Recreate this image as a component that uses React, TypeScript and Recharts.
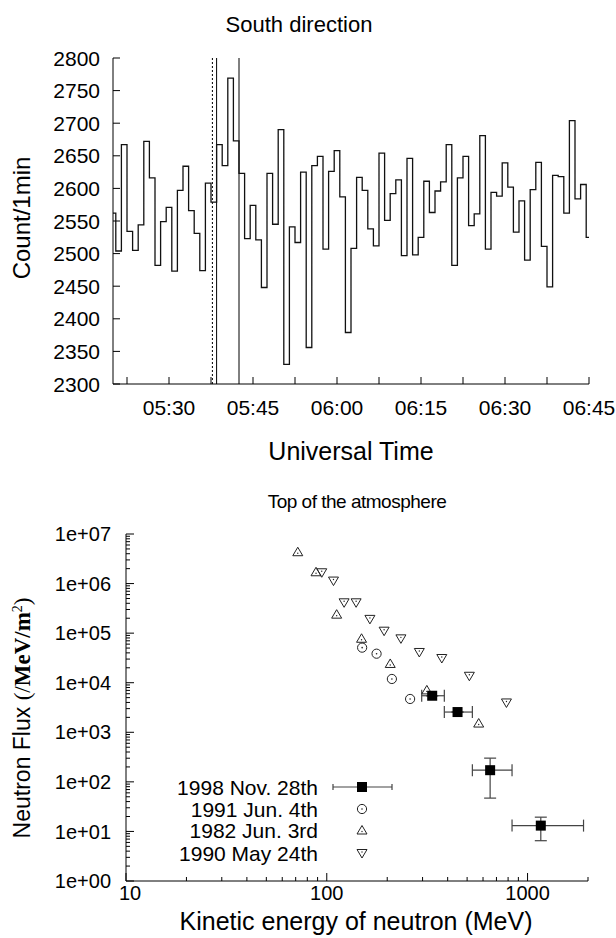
import { ComposedChart, Line, Scatter, XAxis, YAxis, ReferenceLine, ErrorBar } from 'recharts'

const FONT = '"Liberation Sans", Arial, Helvetica, sans-serif'
const SERIF = '"Liberation Serif", "Times New Roman", serif'
const INK = '#000'

// ---- South direction: 1-min counts (minutes after 05:00, bins start at :30)
const firstBinStart = 19.5
const counts = [
  2562, 2504, 2667, 2534, 2505, 2544, 2672, 2616, 2482, 2549, 2571, 2473, 2597, 2634, 2566, 2531,
  2474, 2608, 2579, 2667, 2635, 2769, 2673, 2623, 2523, 2574, 2521, 2448, 2623, 2545, 2690, 2330,
  2541, 2517, 2625, 2356, 2635, 2649, 2507, 2626, 2658, 2587, 2379, 2508, 2617, 2597, 2538, 2512,
  2654, 2551, 2592, 2613, 2497, 2646, 2498, 2525, 2611, 2563, 2596, 2610, 2667, 2482, 2616, 2649,
  2543, 2561, 2681, 2507, 2594, 2588, 2639, 2602, 2533, 2581, 2490, 2598, 2640, 2511, 2449, 2620,
  2618, 2562, 2704, 2584, 2606, 2525,
]
const dottedMarks = [37.75]
const solidMarks = [38.5, 42.5]
const timeTicks = [22.5, 30, 37.5, 45, 52.5, 60, 67.5, 75, 82.5, 90, 97.5, 105]
const countTicks = [2300, 2350, 2400, 2450, 2500, 2550, 2600, 2650, 2700, 2750, 2800]

// ---- Top of the atmosphere
const nov1998Energy = [335, 448, 651, 1164]
const nov1998Flux = [5460, 2560, 172, 13.1]
const nov1998ELow = [297, 385, 531, 837]
const nov1998EHigh = [385, 531, 837, 1900]
const nov1998FLow = [5460, 2560, 47, 6.5]
const nov1998FHigh = [5460, 2560, 301, 19.4]

const jun1991Energy = [150, 177, 211, 260]
const jun1991Flux = [5.1e4, 3.85e4, 1.19e4, 4.7e3]

const jun1982Energy = [71.7, 88.4, 112, 149, 207, 315, 571]
const jun1982Flux = [4.29e6, 1.69e6, 2.36e5, 7.7e4, 2.39e4, 7.0e3, 1.5e3]

const may1990Energy = [94.4, 108, 122, 140, 164, 193, 234, 289, 374, 513, 785]
const may1990Flux = [1.69e6, 1.15e6, 4.19e5, 4.19e5, 1.94e5, 1.12e5, 7.85e4, 4.17e4, 3.15e4, 1.38e4, 4.0e3]

const energyTicks = [
  10, 20, 30, 40, 50, 60, 70, 80, 90, 100, 200, 300, 400, 500, 600, 700, 800, 900, 1000, 2000,
]
const fluxDecades = [1, 10, 100, 1e3, 1e4, 1e5, 1e6, 1e7]
const fluxTicks = fluxDecades.flatMap((d) =>
  d === 1e7 ? [d] : [1, 2, 3, 4, 5, 6, 7, 8, 9].map((m) => m * d),
)

const countData = [
  ...counts.map((c, i) => ({ t: firstBinStart + i, count: c })),
  { t: firstBinStart + counts.length, count: counts[counts.length - 1] },
]

const nov1998 = nov1998Energy.map((e, i) => ({
  e,
  f: nov1998Flux[i],
  ex: [e - nov1998ELow[i], nov1998EHigh[i] - e],
  ey: [nov1998Flux[i] - nov1998FLow[i], nov1998FHigh[i] - nov1998Flux[i]],
}))
const jun1991 = jun1991Energy.map((e, i) => ({ e, f: jun1991Flux[i] }))
const jun1982 = jun1982Energy.map((e, i) => ({ e, f: jun1982Flux[i] }))
const may1990 = may1990Energy.map((e, i) => ({ e, f: may1990Flux[i] }))

type TickProps = { x?: number; y?: number; payload?: { value: number } }

const isDecade = (v: number) => {
  const l = Math.log10(v)
  return Math.abs(l - Math.round(l)) < 1e-6
}

const fmtTime = (v: number) => {
  const h = 5 + Math.floor(v / 60)
  const m = v % 60
  return `${String(h).padStart(2, '0')}:${String(m).padStart(2, '0')}`
}

function TimeTick({ x = 0, y = 0, payload }: TickProps) {
  const v = payload?.value ?? 0
  return (
    <g>
      <line x1={x} y1={y} x2={x} y2={y - 7} stroke={INK} />
      {v % 15 === 0 && (
        <text x={x} y={y + 31} textAnchor="middle" fontSize={21} fontFamily={FONT} fill={INK}>
          {fmtTime(v)}
        </text>
      )}
    </g>
  )
}

const TimeTopTick = ({ x = 0, y = 0 }: TickProps) => (
  <line x1={x} y1={y} x2={x} y2={y + 7} stroke={INK} />
)

function CountTick({ x = 0, y = 0, payload }: TickProps) {
  return (
    <g>
      <line x1={x} y1={y} x2={x + 7} y2={y} stroke={INK} />
      <text x={x - 13} y={y} dy="0.36em" textAnchor="end" fontSize={21} fontFamily={FONT} fill={INK}>
        {payload?.value}
      </text>
    </g>
  )
}

const CountRightTick = ({ x = 0, y = 0 }: TickProps) => (
  <line x1={x} y1={y} x2={x - 7} y2={y} stroke={INK} />
)

function EnergyTick({ x = 0, y = 0, payload }: TickProps) {
  const v = payload?.value ?? 1
  const major = isDecade(v)
  return (
    <g>
      <line x1={x} y1={y} x2={x} y2={y - (major ? 8 : 4)} stroke={INK} />
      {major && (
        <text x={v === 10 ? x + 4 : x} y={y + 19} textAnchor="middle" fontSize={20} fontFamily={FONT} fill={INK}>
          {v}
        </text>
      )}
    </g>
  )
}

const EnergyTopTick = ({ x = 0, y = 0, payload }: TickProps) => (
  <line x1={x} y1={y} x2={x} y2={y + (isDecade(payload?.value ?? 1) ? 8 : 4)} stroke={INK} />
)

function FluxTick({ x = 0, y = 0, payload }: TickProps) {
  const v = payload?.value ?? 1
  const major = isDecade(v)
  const k = Math.round(Math.log10(v))
  return (
    <g>
      <line x1={x} y1={y} x2={x + (major ? 8 : 4)} y2={y} stroke={INK} />
      {major && (
        <text x={x - 15} y={y} dy="0.36em" textAnchor="end" fontSize={20} fontFamily={FONT} fill={INK}>
          {`1e+${String(k).padStart(2, '0')}`}
        </text>
      )}
    </g>
  )
}

const FluxRightTick = ({ x = 0, y = 0, payload }: TickProps) => (
  <line x1={x} y1={y} x2={x - (isDecade(payload?.value ?? 1) ? 8 : 4)} y2={y} stroke={INK} />
)

// point symbols, gnuplot style
type ShapeProps = { cx?: number; cy?: number }
const Square = ({ cx = 0, cy = 0 }: ShapeProps) => (
  <rect x={cx - 5} y={cy - 5} width={10} height={10} fill={INK} />
)
const DotCircle = ({ cx = 0, cy = 0 }: ShapeProps) => (
  <g>
    <circle cx={cx} cy={cy} r={4.6} fill="none" stroke="#222" strokeWidth={1} />
    <circle cx={cx} cy={cy} r={0.8} fill="#222" />
  </g>
)
const UpTri = ({ cx = 0, cy = 0 }: ShapeProps) => (
  <g>
    <polygon
      points={`${cx},${cy - 5} ${cx - 5},${cy + 3.5} ${cx + 5},${cy + 3.5}`}
      fill="none"
      stroke="#222"
      strokeWidth={1}
    />
    <circle cx={cx} cy={cy + 1} r={0.7} fill="#222" />
  </g>
)
const DownTri = ({ cx = 0, cy = 0 }: ShapeProps) => (
  <g>
    <polygon
      points={`${cx - 5},${cy - 3.5} ${cx + 5},${cy - 3.5} ${cx},${cy + 5}`}
      fill="none"
      stroke="#222"
      strokeWidth={1}
    />
    <circle cx={cx} cy={cy - 1} r={0.7} fill="#222" />
  </g>
)

const legendRows = [
  { label: '1998 Nov. 28th', shape: Square, cy: 787 },
  { label: '1991 Jun. 4th', shape: DotCircle, cy: 809 },
  { label: '1982 Jun. 3rd', shape: UpTri, cy: 830.5 },
  { label: '1990 May 24th', shape: DownTri, cy: 853 },
]

const abs = (left: number, top: number): React.CSSProperties => ({
  position: 'absolute',
  left,
  top,
  transform: 'translate(-50%, -50%)',
  whiteSpace: 'nowrap',
  lineHeight: 1,
})

export default function App() {
  return (
    <div
      style={{
        position: 'absolute',
        left: 0,
        top: 0,
        width: 616,
        height: 938,
        background: '#fff',
        fontFamily: FONT,
        color: INK,
      }}
    >
      <div style={{ position: 'absolute', left: 0, top: 0 }}>
        <ComposedChart width={616} height={440} data={countData} margin={{ top: 58, right: 27, bottom: 0, left: 0 }}>
          <XAxis
            xAxisId="b"
            dataKey="t"
            type="number"
            domain={[20, 105]}
            allowDataOverflow
            ticks={timeTicks}
            interval={0}
            height={56}
            tickSize={0}
            tickMargin={0}
            tickLine={false}
            axisLine={{ stroke: INK }}
            tick={TimeTick}
          />
          <XAxis
            xAxisId="t"
            orientation="top"
            dataKey="t"
            type="number"
            domain={[20, 105]}
            allowDataOverflow
            ticks={timeTicks}
            interval={0}
            height={0}
            tickSize={0}
            tickMargin={0}
            tickLine={false}
            axisLine={{ stroke: INK }}
            tick={TimeTopTick}
          />
          <YAxis
            yAxisId="l"
            type="number"
            domain={[2300, 2800]}
            allowDataOverflow
            ticks={countTicks}
            interval={0}
            width={113}
            tickSize={0}
            tickMargin={0}
            tickLine={false}
            axisLine={{ stroke: INK }}
            tick={CountTick}
          />
          <YAxis
            yAxisId="r"
            orientation="right"
            type="number"
            domain={[2300, 2800]}
            allowDataOverflow
            ticks={countTicks}
            interval={0}
            width={0}
            tickSize={0}
            tickMargin={0}
            tickLine={false}
            axisLine={{ stroke: INK }}
            tick={CountRightTick}
          />
          {dottedMarks.map((x) => (
            <ReferenceLine key={`d${x}`} xAxisId="b" yAxisId="l" x={x} stroke={INK} strokeDasharray="2 2" />
          ))}
          {solidMarks.map((x) => (
            <ReferenceLine key={`s${x}`} xAxisId="b" yAxisId="l" x={x} stroke={INK} />
          ))}
          <Line
            xAxisId="b"
            yAxisId="l"
            type="stepAfter"
            dataKey="count"
            stroke="#111"
            strokeWidth={1.3}
            dot={false}
            activeDot={false}
            isAnimationActive={false}
          />
        </ComposedChart>
      </div>

      <div style={{ position: 'absolute', left: 0, top: 450 }}>
        <ComposedChart width={616} height={488} margin={{ top: 84, right: 28, bottom: 0, left: 0 }}>
          <XAxis
            xAxisId="b"
            dataKey="e"
            type="number"
            scale="log"
            domain={[10, 2000]}
            allowDataOverflow
            ticks={energyTicks}
            interval={0}
            height={57}
            tickSize={0}
            tickMargin={0}
            tickLine={false}
            axisLine={{ stroke: INK }}
            tick={EnergyTick}
          />
          <XAxis
            xAxisId="t"
            orientation="top"
            dataKey="e"
            type="number"
            scale="log"
            domain={[10, 2000]}
            allowDataOverflow
            ticks={energyTicks}
            interval={0}
            height={0}
            tickSize={0}
            tickMargin={0}
            tickLine={false}
            axisLine={{ stroke: INK }}
            tick={EnergyTopTick}
          />
          <YAxis
            yAxisId="l"
            dataKey="f"
            type="number"
            scale="log"
            domain={[1, 1e7]}
            allowDataOverflow
            ticks={fluxTicks}
            interval={0}
            width={126}
            tickSize={0}
            tickMargin={0}
            tickLine={false}
            axisLine={{ stroke: INK }}
            tick={FluxTick}
          />
          <YAxis
            yAxisId="r"
            orientation="right"
            dataKey="f"
            type="number"
            scale="log"
            domain={[1, 1e7]}
            allowDataOverflow
            ticks={fluxTicks}
            interval={0}
            width={0}
            tickSize={0}
            tickMargin={0}
            tickLine={false}
            axisLine={{ stroke: INK }}
            tick={FluxRightTick}
          />
          <Scatter xAxisId="b" yAxisId="l" data={may1990} shape={DownTri} isAnimationActive={false} />
          <Scatter xAxisId="b" yAxisId="l" data={jun1982} shape={UpTri} isAnimationActive={false} />
          <Scatter xAxisId="b" yAxisId="l" data={jun1991} shape={DotCircle} isAnimationActive={false} />
          <Scatter xAxisId="b" yAxisId="l" data={nov1998} shape={Square} isAnimationActive={false}>
            <ErrorBar dataKey="ex" direction="x" width={6} stroke="#444" strokeWidth={1.2} />
            <ErrorBar dataKey="ey" direction="y" width={6} stroke="#444" strokeWidth={1.2} />
          </Scatter>
        </ComposedChart>
      </div>

      {/* legend of the lower panel */}
      <svg width={616} height={938} style={{ position: 'absolute', left: 0, top: 0, pointerEvents: 'none' }}>
        {legendRows.map((r) => {
          const Shape = r.shape
          return (
            <g key={r.label}>
              <text x={318} y={r.cy} dy="0.36em" textAnchor="end" fontSize={21} fontFamily={FONT} fill={INK}>
                {r.label}
              </text>
              {Shape === Square && (
                <g stroke="#444" strokeWidth={1.2}>
                  <line x1={333} y1={r.cy} x2={392} y2={r.cy} />
                  <line x1={333} y1={r.cy - 3} x2={333} y2={r.cy + 3} />
                  <line x1={392} y1={r.cy - 3} x2={392} y2={r.cy + 3} />
                </g>
              )}
              <Shape cx={362} cy={r.cy} />
            </g>
          )
        })}
      </svg>

      <div style={{ ...abs(299, 25), fontSize: 22 }}>South direction</div>
      <div style={{ ...abs(351, 451), fontSize: 25 }}>Universal Time</div>
      <div style={{ ...abs(22, 218), fontSize: 24, transform: 'translate(-50%, -50%) rotate(-90deg)' }}>
        Count/1min
      </div>

      <div style={{ ...abs(357, 501), fontSize: 19, letterSpacing: -0.5 }}>Top of the atmosphere</div>
      <div style={{ ...abs(356, 921), fontSize: 25 }}>Kinetic energy of neutron (MeV)</div>
      <div style={{ ...abs(22, 718), fontSize: 23, transform: 'translate(-50%, -50%) rotate(-90deg)' }}>
        Neutron Flux{' '}
        <span style={{ fontFamily: SERIF }}>
          (/<b>MeV/m</b>
          <sup style={{ fontSize: '0.6em' }}>2</sup>)
        </span>
      </div>
    </div>
  )
}
